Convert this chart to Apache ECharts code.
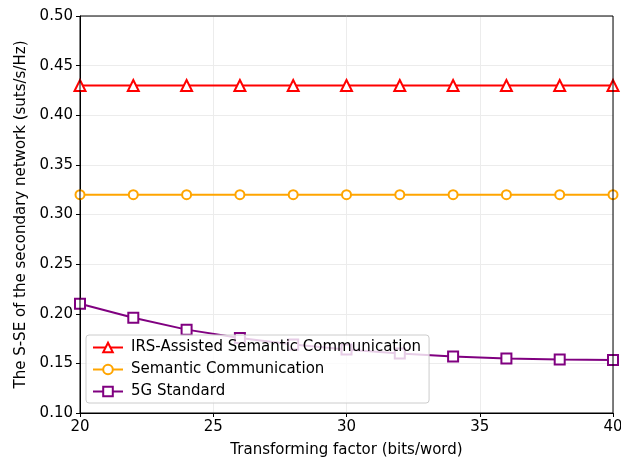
<!DOCTYPE html>
<html><head><meta charset="utf-8">
<script src="https://cdn.jsdelivr.net/npm/echarts@6/dist/echarts.min.js"></script>
<style>html,body{margin:0;padding:0;background:#fff}#c{width:621px;height:461px}</style>
</head><body><div id="c"></div>
<script>
const xValues = [20, 22, 24, 26, 28, 30, 32, 34, 36, 38, 40];
const irsValues = [0.43, 0.43, 0.43, 0.43, 0.43, 0.43, 0.43, 0.43, 0.43, 0.43, 0.43];
const semValues = [0.32, 0.32, 0.32, 0.32, 0.32, 0.32, 0.32, 0.32, 0.32, 0.32, 0.32];
const g5Values = [0.210, 0.196, 0.184, 0.1755, 0.169, 0.164, 0.160, 0.157, 0.155, 0.154, 0.1535];
const seriesNames = ['IRS-Assisted Semantic Communication', 'Semantic Communication', '5G Standard'];

const pairs = v => xValues.map((x, i) => [x, v[i]]);
const font = 'DejaVu Sans';
const chart = echarts.init(document.getElementById('c'), null, {renderer: 'canvas'});
const mk = (name, data, color, symbol, size) => ({
  name, type: 'line', data: pairs(data), smooth: false,
  symbol, symbolSize: size,
  lineStyle: {color, width: 2},
  itemStyle: {color, borderColor: color, borderWidth: 1.1},
  emphasis: {disabled: true}
});
chart.setOption({
  animation: false,
  backgroundColor: '#fff',
  grid: {left: 80, right: 8, top: 16, bottom: 48, containLabel: false, outerBoundsMode: 'none'},
  xAxis: {
    type: 'value', min: 20, max: 40, interval: 5,
    name: 'Transforming factor (bits/word)', nameLocation: 'middle', nameGap: 30,
    nameTextStyle: {fontFamily: font, fontSize: 15, color: '#000'},
    axisLine: {onZero: false, lineStyle: {color: '#000', width: 1}},
    axisTick: {show: true, inside: false, length: 4, lineStyle: {color: '#000'}},
    axisLabel: {fontFamily: font, fontSize: 15, color: '#000', margin: 7},
    splitLine: {show: true, lineStyle: {color: '#ececec', width: 1}}
  },
  yAxis: {
    type: 'value', min: 0.10, max: 0.50, interval: 0.05,
    name: 'The S-SE of the secondary network (suts/s/Hz)', nameLocation: 'middle', nameGap: 50,
    nameTextStyle: {fontFamily: font, fontSize: 15, color: '#000'},
    axisLine: {show: true, onZero: false, lineStyle: {color: '#000', width: 1}},
    axisTick: {show: true, inside: false, length: 4, lineStyle: {color: '#000'}},
    axisLabel: {fontFamily: font, fontSize: 15, color: '#000', margin: 7, formatter: v => v.toFixed(2)},
    splitLine: {show: true, lineStyle: {color: '#ececec', width: 1}}
  },
  legend: {
    orient: 'vertical', left: 86, top: 335,
    data: seriesNames,
    backgroundColor: 'rgba(255,255,255,0.8)', borderColor: '#cccccc', borderWidth: 1, borderRadius: 3,
    padding: [5, 8, 4, 6], itemGap: 7, itemWidth: 30, itemHeight: 12,
    textStyle: {fontFamily: font, fontSize: 15, color: '#000', padding: [0, 0, 0, 3]}
  },
  series: [
    mk(seriesNames[0], irsValues, '#ff0000', 'emptyTriangle', 11),
    mk(seriesNames[1], semValues, '#ffa500', 'emptyCircle', 9),
    mk(seriesNames[2], g5Values, '#800080', 'emptyRect', 10)
  ]
});
chart.setOption({graphic: [{type: 'rect', shape: {x: 80, y: 16, width: 533, height: 397}, style: {fill: 'none', stroke: '#000', lineWidth: 1}, z: 100, silent: true}]});
</script></body></html>
